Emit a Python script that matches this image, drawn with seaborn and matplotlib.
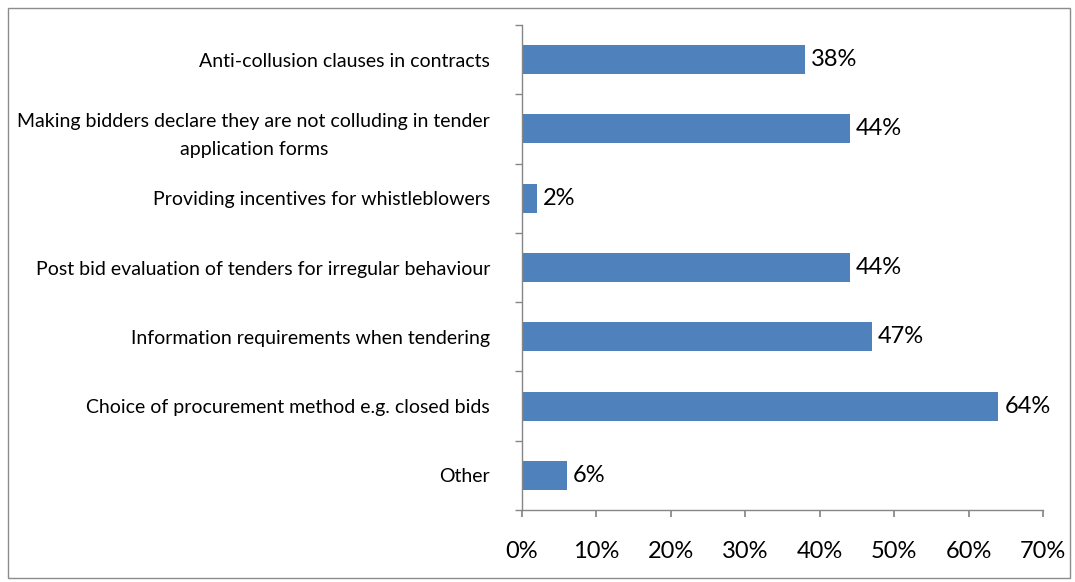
import matplotlib
matplotlib.use("Agg")
import matplotlib.pyplot as plt
from matplotlib.patches import Rectangle
from matplotlib.ticker import FixedLocator, PercentFormatter
import seaborn as sns
import pandas as pd

categories = [
    "Anti-collusion clauses in contracts",
    "Making bidders declare they are not colluding in tender\napplication forms",
    "Providing incentives for whistleblowers",
    "Post bid evaluation of tenders for irregular behaviour",
    "Information requirements when tendering",
    "Choice of procurement method e.g. closed bids",
    "Other",
]
shares = [38, 44, 2, 44, 47, 64, 6]
x_ticks = [0, 10, 20, 30, 40, 50, 60, 70]

sns.set_theme(style="white")
plt.rcParams["font.family"] = ["Lato", "DejaVu Sans"]

df = pd.DataFrame({"category": categories, "share": shares})

fig = plt.figure(figsize=(10.75, 5.82), dpi=100)
ax = fig.add_axes([0.4856, 0.1237, 0.4847, 0.8333])

sns.barplot(data=df, x="share", y="category", orient="h", color="#4F81BD",
            saturation=1, width=0.42, linewidth=0, ax=ax)

ax.set_xlim(0, 70)
ax.set_ylim(len(categories) - 0.5, -0.5)
ax.set_xlabel("")
ax.set_ylabel("")

axis_col = "#868686"
for side in ["top", "right"]:
    ax.spines[side].set_visible(False)
for side in ["left", "bottom"]:
    ax.spines[side].set_color(axis_col)
    ax.spines[side].set_linewidth(1.0)

ax.set_xticks(x_ticks)
ax.xaxis.set_major_formatter(PercentFormatter(decimals=0))
ax.tick_params(axis="x", which="major", direction="out", length=5, color=axis_col,
               labelsize=17, pad=17, labelcolor="#000000", bottom=True)

ax.yaxis.set_minor_locator(FixedLocator([i - 0.5 for i in range(len(categories) + 1)]))
ax.tick_params(axis="y", which="major", length=0, labelsize=14, pad=23,
               labelcolor="#000000")
ax.tick_params(axis="y", which="minor", direction="out", length=5, color=axis_col,
               left=True)
for lbl in ax.get_yticklabels():
    lbl.set_multialignment("center")
    lbl.set_linespacing(1.75)

for i, v in enumerate(shares):
    ax.text(v + 0.8, i, f"{v}%", va="center", ha="left", fontsize=17, color="#000000")

fig.patches.append(Rectangle((8 / 1075, 4 / 582), 1062 / 1075, 570 / 582,
                             transform=fig.transFigure, fill=False,
                             edgecolor="#8c8c8c", linewidth=1.0))

fig.savefig("out.png", dpi=100)
